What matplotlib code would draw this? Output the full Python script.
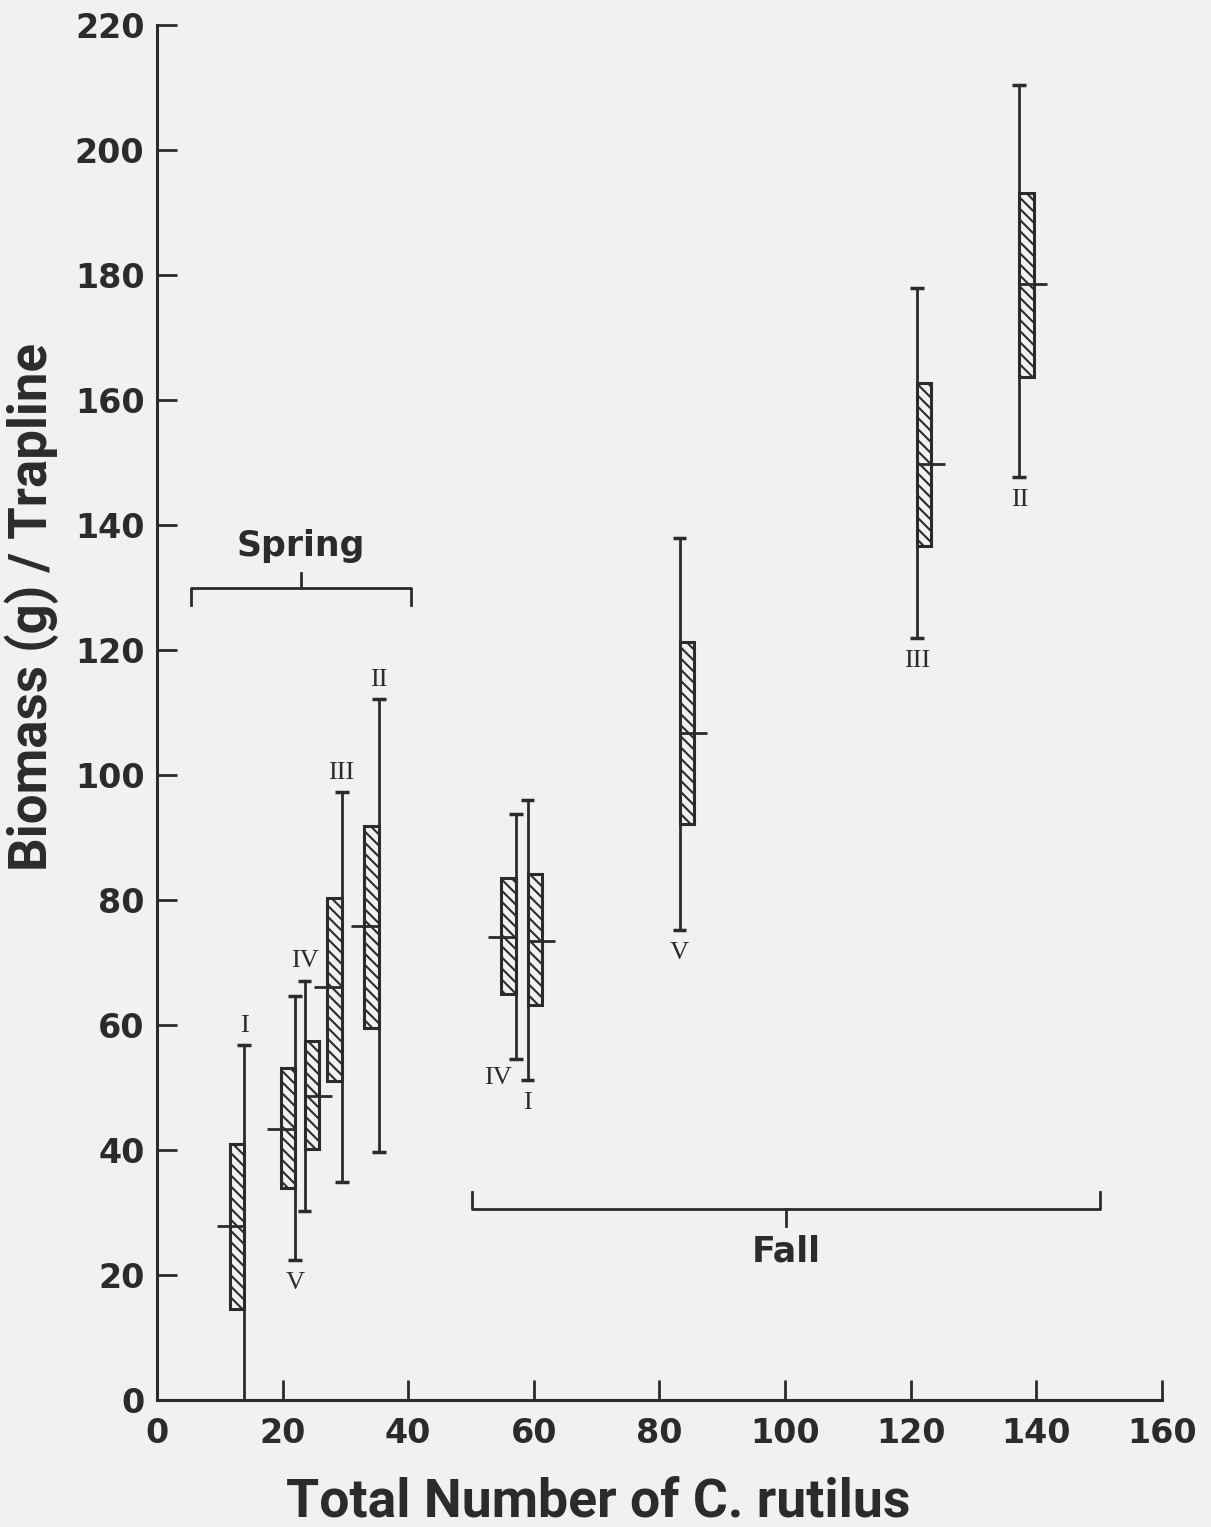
import numpy as np
import matplotlib.pyplot as plt

# values
labels = ['I', 'V', 'IV', 'III', 'II', 'IV', 'I', 'V', 'III', 'II']
n_total = [13.9, 22.0, 23.5, 29.4, 35.3, 57.1, 59.0, 83.2, 121.0, 137.3]
mean_bio = [27.9, 43.4, 48.6, 66.0, 75.9, 74.1, 73.4, 106.7, 149.7, 178.5]
box_lo = [14.6, 33.9, 40.1, 51.0, 59.5, 65.0, 63.2, 92.1, 136.6, 163.7]
box_hi = [40.9, 53.1, 57.4, 80.3, 91.9, 83.5, 84.1, 121.3, 162.7, 193.2]
whisk_lo = [0.0, 22.4, 30.2, 34.9, 39.6, 54.6, 51.2, 75.2, 122.0, 147.7]
whisk_hi = [56.8, 64.7, 67.1, 97.3, 112.2, 93.8, 96.0, 137.9, 177.9, 210.4]
box_side = [-1, -1, 1, -1, -1, -1, 1, 1, 1, 1]   # box drawn left (-1) or right (+1) of the line
label_pos = ['above', 'below', 'above', 'above', 'above',
             'left', 'below', 'below', 'below', 'below']

spring_span = [5.5, 40.4]
fall_span = [50.1, 150.2]

xticks = [0, 20, 40, 60, 80, 100, 120, 140, 160]
yticks = [0, 20, 40, 60, 80, 100, 120, 140, 160, 180, 200, 220]

ink = '#2b2b2b'
bg = '#f2f1f2'
plt.rcParams['hatch.linewidth'] = 1.5
plt.rcParams['hatch.color'] = ink

n_total = np.array(n_total)
mean_bio = np.array(mean_bio)
box_lo = np.array(box_lo)
box_hi = np.array(box_hi)
whisk_lo = np.array(whisk_lo)
whisk_hi = np.array(whisk_hi)
side = np.array(box_side)

w = 2.3
ext = 2.1
cap = 1.1

fig = plt.figure(figsize=(12.11, 15.27), dpi=100, facecolor=bg)
ax = fig.add_axes([0.1296, 0.0832, 0.8299, 0.9004], facecolor=bg)

# whiskers
ax.vlines(n_total, whisk_lo, whisk_hi, color=ink, lw=2, zorder=2)
ax.hlines(whisk_hi, n_total - cap, n_total + cap, color=ink, lw=2.5, zorder=2)
m = whisk_lo > 0
ax.hlines(whisk_lo[m], n_total[m] - cap, n_total[m] + cap, color=ink, lw=2.5, zorder=2)

# hatched boxes
left = n_total + np.minimum(side, 0) * w
ax.bar(left, box_hi - box_lo, bottom=box_lo, width=w, align='edge',
       facecolor=bg, edgecolor=ink, linewidth=2.2, hatch='\\\\\\', zorder=3)

# mean ticks
x0 = np.where(side < 0, n_total - w - ext, n_total)
x1 = np.where(side < 0, n_total, n_total + w + ext)
ax.hlines(mean_bio, x0, x1, color=ink, lw=2, zorder=4)

# roman numeral labels
for lab, x, lo, hi, pos in zip(labels, n_total, whisk_lo, whisk_hi, label_pos):
    if pos == 'above':
        ax.text(x, hi + 1.3, lab, ha='center', va='bottom', fontsize=19,
                family='Liberation Serif', color=ink)
    elif pos == 'below':
        ax.text(x, lo - 2.0, lab, ha='center', va='top', fontsize=19,
                family='Liberation Serif', color=ink)
    else:
        ax.text(x - 0.6, lo - 1.4, lab, ha='right', va='top', fontsize=19,
                family='Liberation Serif', color=ink)

# season brackets
sm = sum(spring_span) / 2
ax.plot([spring_span[0], spring_span[0], spring_span[1], spring_span[1]],
        [127.2, 129.9, 129.9, 127.2], color=ink, lw=2)
ax.plot([sm, sm], [129.9, 132.4], color=ink, lw=2)
ax.text(sm, 136.7, 'Spring', ha='center', va='center', fontsize=25,
        fontweight='bold', color=ink)

fm = sum(fall_span) / 2
ax.plot([fall_span[0], fall_span[0], fall_span[1], fall_span[1]],
        [33.2, 30.5, 30.5, 33.2], color=ink, lw=2)
ax.plot([fm, fm], [30.5, 27.8], color=ink, lw=2)
ax.text(fm, 23.7, 'Fall', ha='center', va='center', fontsize=25,
        fontweight='bold', color=ink)

ax.set_xlim(0, 160)
ax.set_ylim(0, 220)
ax.set_xticks(xticks)
ax.set_yticks(yticks)
ax.tick_params(direction='in', length=14.4, width=2, color=ink, labelcolor=ink,
               labelsize=24, pad=9)
ax.tick_params(axis='x', pad=12)
for t in ax.get_xticklabels() + ax.get_yticklabels():
    t.set_fontweight('bold')
for s in ['top', 'right']:
    ax.spines[s].set_visible(False)
for s in ['left', 'bottom']:
    ax.spines[s].set_linewidth(2.2)
    ax.spines[s].set_color(ink)

fig.text(598 / 1211, 1 - 1502 / 1527, 'Total Number of C. rutilus', ha='center',
         va='center', fontsize=38.5, fontweight='bold', color=ink,
         family=['Roboto', 'DejaVu Sans'])
fig.text(32 / 1211, 1 - 607 / 1527, 'Biomass (g) / Trapline', ha='center',
         va='center', rotation=90, fontsize=38, fontweight='bold', color=ink,
         family=['Roboto', 'DejaVu Sans'])

fig.savefig('out.png', dpi=100, facecolor=bg)
